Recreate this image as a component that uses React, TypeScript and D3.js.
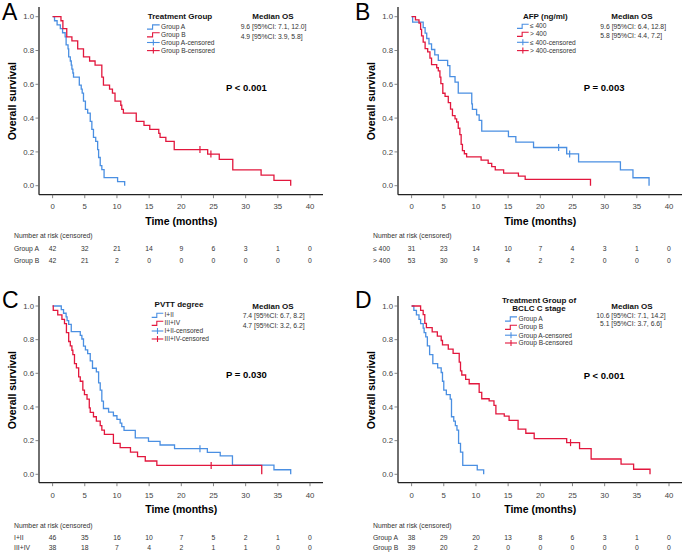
import React from "react";
import * as d3 from "d3";

type Pt = [number, number];

const timeTicks = [0, 5, 10, 15, 20, 25, 30, 35, 40];
const survTicks = [0, 0.2, 0.4, 0.6, 0.8, 1.0];

// ---------- Panel A : Treatment Group ----------
const aBlue: Pt[] = [[0,1],[0.3,0.976],[0.7,0.952],[1.2,0.929],[1.55,0.905],[1.95,0.881],[2.1,0.833],[2.4,0.81],[2.5,0.762],[2.75,0.738],[2.9,0.714],[3.0,0.69],[3.15,0.667],[3.25,0.643],[4.15,0.595],[4.45,0.571],[4.6,0.548],[4.8,0.5],[5.1,0.452],[5.45,0.429],[5.85,0.381],[6.1,0.333],[6.35,0.286],[6.7,0.262],[7.0,0.214],[7.15,0.167],[7.4,0.119],[7.65,0.095],[8.0,0.048],[10.1,0.024],[11.2,0]];
const aRed: Pt[] = [[0,1],[1.3,0.976],[1.6,0.929],[2.2,0.881],[3.0,0.857],[3.9,0.81],[4.8,0.762],[5.75,0.738],[6.6,0.714],[7.65,0.643],[7.9,0.595],[8.85,0.571],[9.3,0.548],[9.7,0.5],[10.6,0.476],[10.75,0.452],[11.0,0.429],[13.0,0.381],[14.2,0.357],[15.1,0.333],[16.5,0.31],[16.7,0.286],[17.6,0.262],[18.9,0.214],[24.1,0.187],[25.9,0.156],[28.0,0.094],[32.4,0.062],[34.4,0.031],[37.0,0]];
const aRedCensor: Pt[] = [[22.9,0.214],[24.6,0.187]];
const aRisk1 = [42, 32, 21, 14, 9, 6, 3, 1, 0];
const aRisk2 = [42, 21, 2, 0, 0, 0, 0, 0, 0];

// ---------- Panel B : AFP ----------
const bBlue: Pt[] = [[0,1],[0.16,0.968],[1.8,0.935],[2.1,0.903],[2.35,0.871],[2.7,0.839],[3.1,0.806],[3.6,0.774],[4.15,0.742],[5.6,0.71],[5.95,0.645],[6.75,0.613],[7.25,0.548],[9.35,0.484],[9.45,0.452],[10.1,0.419],[10.5,0.387],[10.9,0.323],[15.05,0.29],[16.2,0.258],[18.95,0.226],[24.1,0.188],[25.95,0.141],[32.45,0.094],[34.4,0.047],[36.9,0]];
const bBlueCensor: Pt[] = [[22.85,0.226],[24.56,0.188]];
const bRed: Pt[] = [[0,1],[0.6,0.981],[1.15,0.962],[1.4,0.925],[1.55,0.887],[1.8,0.849],[2.1,0.811],[2.5,0.792],[2.85,0.755],[3.1,0.717],[3.9,0.698],[4.15,0.679],[4.4,0.642],[4.55,0.604],[4.85,0.547],[5.2,0.528],[5.7,0.491],[6.05,0.453],[6.35,0.415],[6.75,0.396],[7.0,0.377],[7.25,0.34],[7.5,0.302],[7.7,0.245],[7.9,0.208],[8.2,0.189],[8.55,0.17],[10.8,0.151],[11.9,0.132],[12.45,0.113],[13.0,0.094],[14.3,0.075],[16.6,0.057],[17.65,0.038],[27.8,0]];
const bRisk1 = [31, 23, 14, 10, 7, 4, 3, 1, 0];
const bRisk2 = [53, 30, 9, 4, 2, 2, 0, 0, 0];

// ---------- Panel C : PVTT degree ----------
const cBlue: Pt[] = [[0,1],[1.35,0.978],[1.7,0.957],[2.1,0.935],[2.25,0.913],[2.5,0.891],[2.9,0.848],[4.3,0.826],[4.55,0.804],[4.8,0.761],[5.1,0.739],[5.45,0.717],[5.85,0.674],[6.2,0.63],[6.8,0.609],[7.15,0.543],[7.4,0.5],[7.65,0.435],[7.9,0.391],[8.7,0.37],[9.45,0.348],[10.0,0.326],[10.5,0.304],[10.75,0.283],[11.1,0.261],[12.85,0.217],[14.9,0.196],[16.7,0.174],[18.95,0.152],[24.05,0.13],[26.05,0.109],[27.95,0.054],[34.4,0.027],[37.0,0]];
const cBlueCensor: Pt[] = [[22.9,0.152]];
const cRed: Pt[] = [[0,1],[0.1,0.974],[0.8,0.947],[1.45,0.921],[1.85,0.895],[2.15,0.842],[2.5,0.789],[2.75,0.763],[3.0,0.737],[3.15,0.711],[3.4,0.658],[3.7,0.632],[4.05,0.579],[4.3,0.553],[4.7,0.5],[4.95,0.474],[5.35,0.447],[5.7,0.395],[5.85,0.368],[6.35,0.342],[6.8,0.316],[7.4,0.289],[7.65,0.263],[8.05,0.237],[9.45,0.184],[10.5,0.158],[12.1,0.132],[13.2,0.105],[14.4,0.079],[16.2,0.053],[32.5,0]];
const cRedCensor: Pt[] = [[24.64,0.053]];
const cRisk1 = [46, 35, 16, 10, 7, 5, 2, 1, 0];
const cRisk2 = [38, 18, 7, 4, 2, 1, 1, 0, 0];

// ---------- Panel D : Treatment Group of BCLC C stage ----------
const dBlue: Pt[] = [[0,1],[0.35,0.974],[0.75,0.947],[1.15,0.921],[1.4,0.895],[1.8,0.868],[1.95,0.842],[2.2,0.816],[2.45,0.763],[2.8,0.711],[3.3,0.658],[4.05,0.632],[4.6,0.605],[4.8,0.553],[5.0,0.5],[5.4,0.474],[6.0,0.447],[6.2,0.342],[6.55,0.316],[6.8,0.289],[7.05,0.263],[7.3,0.184],[7.6,0.132],[7.95,0.053],[10.2,0.026],[11.2,0]];
const dRed: Pt[] = [[0,1],[1.4,0.974],[1.8,0.949],[2.05,0.897],[2.3,0.872],[3.2,0.846],[4.0,0.821],[4.6,0.795],[4.8,0.769],[5.7,0.744],[6.45,0.718],[7.4,0.667],[7.6,0.615],[7.8,0.59],[8.4,0.564],[8.95,0.538],[10.5,0.487],[10.9,0.449],[12.05,0.436],[12.8,0.41],[13.1,0.359],[14.4,0.346],[15.15,0.321],[16.55,0.269],[17.75,0.244],[19.05,0.212],[24.1,0.188],[26.1,0.152],[27.9,0.091],[32.55,0.061],[34.5,0.03],[37.05,0]];
const dRedCensor: Pt[] = [[24.7,0.188]];
const dRisk1 = [38, 29, 20, 13, 8, 6, 3, 1, 0];
const dRisk2 = [39, 20, 2, 0, 0, 0, 0, 0, 0];

const BLUE = "#4a8fe2";
const RED = "#e2173d";
const FONT = "'Liberation Sans', Arial, Helvetica, sans-serif";

interface Geom {
  y1: number; y0: number; axisY: number; axisTop: number;
  tickLabelY: number; titleY: number; riskHeaderY: number; riskRowY: number[];
}
const topGeom: Geom = { y1: 16.7, y0: 185.7, axisY: 194.7, axisTop: 7, tickLabelY: 206, titleY: 221.7, riskHeaderY: 236, riskRowY: [249, 261] };
const botGeom: Geom = { y1: 16.5, y0: 184.8, axisY: 193.2, axisTop: 6.5, tickLabelY: 205.5, titleY: 219.8, riskHeaderY: 236.5, riskRowY: [247.8, 258.3] };

interface PanelDef {
  letter: string; ox: number; oy: number; letterX: number; letterY: number; geom: Geom;
  blue: Pt[]; red: Pt[]; blueCensor: Pt[]; redCensor: Pt[];
  legendTitle: string[]; legendTitleY: number[]; legendCx: number;
  legendItems: string[]; legendRowY: number[]; sampleX: [number, number]; textX: number;
  medianLines: string[]; medianTitleY: number; medianY: number[]; medianX: number; medianAnchor: string;
  pText: string; pX: number; pY: number;
  riskLabels: string[]; risk: number[][];
}

const panels: PanelDef[] = [
  {
    letter: "A", ox: 0, oy: 0, letterX: 2, letterY: 20, geom: topGeom,
    blue: aBlue, red: aRed, blueCensor: [], redCensor: aRedCensor,
    legendTitle: ["Treatment Group"], legendTitleY: [15.7], legendCx: 180,
    legendItems: ["Group A", "Group B", "Group A-censored", "Group B-censored"], legendRowY: [26.7, 34.5, 42.5, 50.6], sampleX: [147, 159.7], textX: 161,
    medianLines: ["9.6 [95%CI: 7.1, 12.0]", "4.9 [95%CI: 3.9, 5.8]"], medianTitleY: 15.7, medianY: [27, 36.8], medianX: 240.7, medianAnchor: "start",
    pText: "P < 0.001", pX: 226, pY: 87.5,
    riskLabels: ["Group A", "Group B"], risk: [aRisk1, aRisk2],
  },
  {
    letter: "B", ox: 359, oy: 0, letterX: -4, letterY: 19.5, geom: topGeom,
    blue: bBlue, red: bRed, blueCensor: bBlueCensor, redCensor: [],
    legendTitle: ["AFP (ng/ml)"], legendTitleY: [15.7], legendCx: 186.3,
    legendItems: ["\u2264 400", "> 400", "\u2264 400-censored", "> 400-censored"], legendRowY: [26, 34, 42.3, 50.6], sampleX: [158, 169.7], textX: 171,
    medianLines: ["9.6 [95%CI: 6.4, 12.8]", "5.8 [95%CI: 4.4, 7.2]"], medianTitleY: 15.7, medianY: [26.2, 35.2], medianX: 241.3, medianAnchor: "start",
    pText: "P = 0.003", pX: 224.7, pY: 88,
    riskLabels: ["\u2264 400", "> 400"], risk: [bRisk1, bRisk2],
  },
  {
    letter: "C", ox: 0, oy: 289.5, letterX: 2, letterY: 18.2, geom: botGeom,
    blue: cBlue, red: cRed, blueCensor: cBlueCensor, redCensor: cRedCensor,
    legendTitle: ["PVTT degree"], legendTitleY: [14.5], legendCx: 179,
    legendItems: ["I+II", "III+IV", "I+II-censored", "III+IV-censored"], legendRowY: [25.5, 33.5, 41.5, 49.5], sampleX: [151.7, 163.3], textX: 164.5,
    medianLines: ["7.4 [95%CI: 6.7, 8.2]", "4.7 [95%CI: 3.2, 6.2]"], medianTitleY: 16.5, medianY: [26.5, 36.5], medianX: 242.7, medianAnchor: "start",
    pText: "P = 0.030", pX: 226, pY: 85.5,
    riskLabels: ["I+II", "III+IV"], risk: [cRisk1, cRisk2],
  },
  {
    letter: "D", ox: 359, oy: 289.5, letterX: -4, letterY: 18.2, geom: botGeom,
    blue: dBlue, red: dRed, blueCensor: [], redCensor: dRedCensor,
    legendTitle: ["Treatment Group of", "BCLC C stage"], legendTitleY: [10.5, 18.7], legendCx: 180,
    legendItems: ["Group A", "Group B", "Group A-censored", "Group B-censored"], legendRowY: [29.2, 37.5, 45.7, 53.5], sampleX: [146, 158], textX: 159.5,
    medianLines: ["10.6 [95%CI: 7.1, 14.2]", "5.1 [95%CI: 3.7, 6.6]"], medianTitleY: 16.5, medianY: [25.8, 34.2], medianX: 272, medianAnchor: "middle",
    pText: "P < 0.001", pX: 224.7, pY: 86.5,
    riskLabels: ["Group A", "Group B"], risk: [dRisk1, dRisk2],
  },
];

function Panel({ p }: { p: PanelDef }) {
  const g = p.geom;
  const x = d3.scaleLinear().domain([0, 40]).range([52.6, 310]);
  const y = d3.scaleLinear().domain([0, 1]).range([g.y0, g.y1]);
  const axisX = 39;
  const axisRight = 323;
  const line = d3.line<Pt>().x((d) => x(d[0])).y((d) => y(d[1])).curve(d3.curveStepAfter);
  const colors = [BLUE, RED];

  return (
    <g transform={`translate(${p.ox},${p.oy})`} fontFamily={FONT}>
      <text x={p.letterX} y={p.letterY} fontSize={23} fill="#000">{p.letter}</text>

      {/* axes */}
      <line x1={axisX} x2={axisX} y1={g.axisTop} y2={g.axisY} stroke="#222" strokeWidth={1.3} />
      <line x1={axisX} x2={axisRight} y1={g.axisY} y2={g.axisY} stroke="#222" strokeWidth={1.3} />
      {survTicks.map((t) => (
        <g key={"y" + t}>
          <line x1={axisX - 3.5} x2={axisX} y1={y(t)} y2={y(t)} stroke="#666" strokeWidth={0.8} />
          <text x={axisX - 5} y={y(t)} dy="0.35em" textAnchor="end" fontSize={7.8} fill="#444">{t.toFixed(1)}</text>
        </g>
      ))}
      {timeTicks.map((t) => (
        <g key={"x" + t}>
          <line x1={x(t)} x2={x(t)} y1={g.axisY} y2={g.axisY + 3.5} stroke="#666" strokeWidth={0.8} />
          <text x={x(t)} y={g.tickLabelY} dy="0.35em" textAnchor="middle" fontSize={7.8} fill="#444">{t}</text>
        </g>
      ))}
      <text x={x(20)} y={g.titleY} dy="0.35em" textAnchor="middle" fontSize={10.5} fontWeight="bold" fill="#000">Time (months)</text>
      <text transform={`translate(${axisX - 27},${(g.y0 + g.y1) / 2}) rotate(-90)`} dy="0.35em" textAnchor="middle" fontSize={10.5} fontWeight="bold" fill="#000">Overall survival</text>

      {/* curves */}
      <path d={line(p.blue) || ""} fill="none" stroke={BLUE} strokeWidth={1.3} />
      <path d={line(p.red) || ""} fill="none" stroke={RED} strokeWidth={1.3} />
      {p.blueCensor.map((c, i) => (
        <line key={"bc" + i} x1={x(c[0])} x2={x(c[0])} y1={y(c[1]) - 3.5} y2={y(c[1]) + 3.5} stroke={BLUE} strokeWidth={1.2} />
      ))}
      {p.redCensor.map((c, i) => (
        <line key={"rc" + i} x1={x(c[0])} x2={x(c[0])} y1={y(c[1]) - 3.5} y2={y(c[1]) + 3.5} stroke={RED} strokeWidth={1.2} />
      ))}

      {/* legend */}
      {p.legendTitle.map((t, i) => (
        <text key={"lt" + i} x={p.legendCx} y={p.legendTitleY[i]} dy="0.35em" textAnchor="middle" fontSize={8} fontWeight="bold" fill="#111">{t}</text>
      ))}
      {p.legendItems.map((t, i) => {
        const yy = p.legendRowY[i];
        const [sx0, sx1] = p.sampleX;
        const col = colors[i % 2];
        const mid = sx0 + (sx1 - sx0) * 0.44;
        return (
          <g key={"li" + i}>
            {i < 2 ? (
              <path d={`M${sx0},${yy + 2.4}H${mid}V${yy - 1.8}H${sx1}`} fill="none" stroke={col} strokeWidth={1.1} />
            ) : (
              <g>
                <line x1={sx0} x2={sx1} y1={yy} y2={yy} stroke={col} strokeWidth={1.1} />
                <line x1={(sx0 + sx1) / 2} x2={(sx0 + sx1) / 2} y1={yy - 3} y2={yy + 3} stroke={col} strokeWidth={1.1} />
              </g>
            )}
            <text x={p.textX} y={yy} dy="0.35em" fontSize={6.6} fill="#333">{t}</text>
          </g>
        );
      })}

      {/* median OS */}
      <text x={273} y={p.medianTitleY} dy="0.35em" textAnchor="middle" fontSize={8} fontWeight="bold" fill="#111">Median OS</text>
      {p.medianLines.map((t, i) => (
        <text key={"m" + i} x={p.medianX} y={p.medianY[i]} dy="0.35em" textAnchor={p.medianAnchor as any} fontSize={6.8} fill="#333">{t}</text>
      ))}

      <text x={p.pX} y={p.pY} dy="0.35em" fontSize={9.5} fontWeight="bold" fill="#000">{p.pText}</text>

      {/* number at risk */}
      <text x={14} y={g.riskHeaderY} dy="0.35em" fontSize={6.8} fill="#333">Number at risk (censored)</text>
      {p.riskLabels.map((lab, r) => (
        <g key={"r" + r}>
          <text x={14} y={g.riskRowY[r]} dy="0.35em" fontSize={6.8} fill="#333">{lab}</text>
          {p.risk[r].map((v, j) => (
            <text key={j} x={x(timeTicks[j])} y={g.riskRowY[r]} dy="0.35em" textAnchor="middle" fontSize={6.8} fill="#333">{v}</text>
          ))}
        </g>
      ))}
    </g>
  );
}

export default function App() {
  return (
    <svg width={684} height={553} viewBox="0 0 684 553" style={{ position: "absolute", left: 0, top: 0, background: "#fff" }}>
      <rect width={684} height={553} fill="#fff" />
      {panels.map((p) => (
        <Panel key={p.letter} p={p} />
      ))}
    </svg>
  );
}
